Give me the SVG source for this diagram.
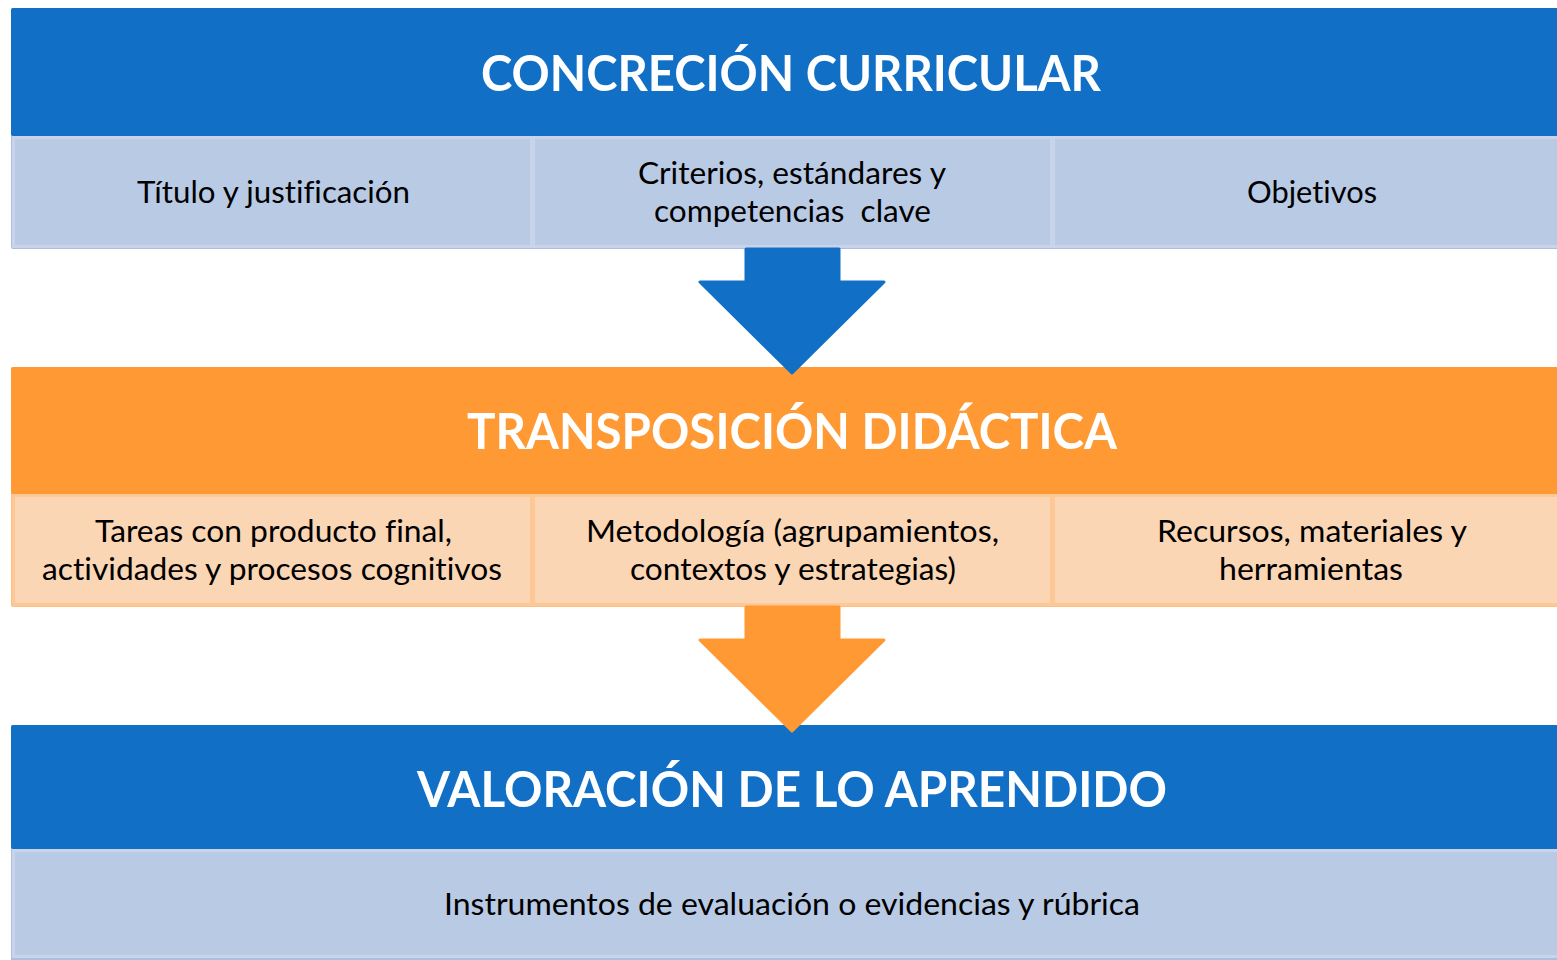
<svg xmlns="http://www.w3.org/2000/svg" width="1557" height="960" viewBox="0 0 1557 960">
<style>
.bg{fill:#ffffff}
.hdr-blue{fill:#1170C6}
.hdr-orange{fill:#FF9933}
.base-blue{fill:#A9BFE2}
.base-orange{fill:#FDBF85}
.cell-blue{fill:#B9CAE5;stroke:#C9D4EA;stroke-width:3}
.cell-orange{fill:#FBD6B5;stroke:#FDC896;stroke-width:3}
.title{font-family:Lato,'Liberation Sans',sans-serif;font-weight:700;font-size:50px;fill:#ffffff;text-anchor:middle;font-variant-ligatures:none}
.body{font-family:Lato,'Liberation Sans',sans-serif;font-size:30px;fill:#000000;text-anchor:middle;white-space:pre;font-variant-ligatures:none;font-feature-settings:"liga" 0,"clig" 0}
.arrow-blue{fill:#1170C6;stroke:#1170C6;stroke-width:3;stroke-linejoin:round}
.arrow-orange{fill:#FF9933;stroke:#FF9933;stroke-width:3;stroke-linejoin:round}
</style>
<rect class="bg" x="0" y="0" width="1557" height="960"/>

<g id="concrecion">
  <rect class="base-blue" x="11" y="8" width="1570" height="241" rx="2"/>
  <rect class="hdr-blue" x="11" y="8" width="1570" height="128" rx="2"/>
  <text class="title" x="791" y="91" textLength="620" lengthAdjust="spacingAndGlyphs">CONCRECIÓN CURRICULAR</text>
</g>
<g id="titulo">
  <rect class="cell-blue" x="13.5" y="137.5" width="518" height="109"/>
  <text class="body" x="273.5" y="203" textLength="273" lengthAdjust="spacingAndGlyphs">Título y justificación</text>
</g>
<g id="criterios">
  <rect class="cell-blue" x="533.5" y="137.5" width="518" height="109"/>
  <text class="body" x="792" y="184" textLength="308" lengthAdjust="spacingAndGlyphs">Criterios, estándares y</text>
  <text class="body" x="792.5" y="222" textLength="277" lengthAdjust="spacingAndGlyphs">competencias  clave</text>
</g>
<g id="objetivos">
  <rect class="cell-blue" x="1053.5" y="137.5" width="518" height="109"/>
  <text class="body" x="1312" y="203" textLength="130" lengthAdjust="spacingAndGlyphs">Objetivos</text>
</g>

<g id="transposicion">
  <rect class="base-orange" x="11" y="367" width="1570" height="240" rx="2"/>
  <rect class="hdr-orange" x="11" y="367" width="1570" height="127" rx="2"/>
  <text class="title" x="792" y="449" textLength="650" lengthAdjust="spacingAndGlyphs">TRANSPOSICIÓN DIDÁCTICA</text>
</g>
<g id="tareas">
  <rect class="cell-orange" x="13.5" y="495.5" width="518" height="109"/>
  <text class="body" x="273.5" y="542" textLength="357" lengthAdjust="spacingAndGlyphs">Tareas con producto final,</text>
  <text class="body" x="272" y="580" textLength="460" lengthAdjust="spacingAndGlyphs">actividades y procesos cognitivos</text>
</g>
<g id="metodologia">
  <rect class="cell-orange" x="533.5" y="495.5" width="518" height="109"/>
  <text class="body" x="792.5" y="542" textLength="413" lengthAdjust="spacingAndGlyphs">Metodología (agrupamientos,</text>
  <text class="body" x="793" y="580" textLength="326" lengthAdjust="spacingAndGlyphs">contextos y estrategias)</text>
</g>
<g id="recursos">
  <rect class="cell-orange" x="1053.5" y="495.5" width="518" height="109"/>
  <text class="body" x="1312" y="542" textLength="310" lengthAdjust="spacingAndGlyphs">Recursos, materiales y</text>
  <text class="body" x="1311" y="580" textLength="184" lengthAdjust="spacingAndGlyphs">herramientas</text>
</g>

<g id="valoracion">
  <rect class="base-blue" x="11" y="725" width="1570" height="250" rx="2"/>
  <rect class="hdr-blue" x="11" y="725" width="1570" height="124" rx="2"/>
  <text class="title" x="792" y="807" textLength="750" lengthAdjust="spacingAndGlyphs">VALORACIÓN DE LO APRENDIDO</text>
</g>
<g id="instrumentos">
  <rect class="cell-blue" x="13.5" y="850.5" width="1560" height="106"/>
  <text class="body" x="792" y="915" textLength="696" lengthAdjust="spacingAndGlyphs">Instrumentos de evaluación o evidencias y rúbrica</text>
</g>

<g id="connectors">
  <polygon class="arrow-blue" points="746,249 839,249 839,282 884,282 792,373 700,282 746,282"/>
  <polygon class="arrow-orange" points="746,607 839,607 839,640 884,640 792,731 700,640 746,640"/>
</g>
</svg>
